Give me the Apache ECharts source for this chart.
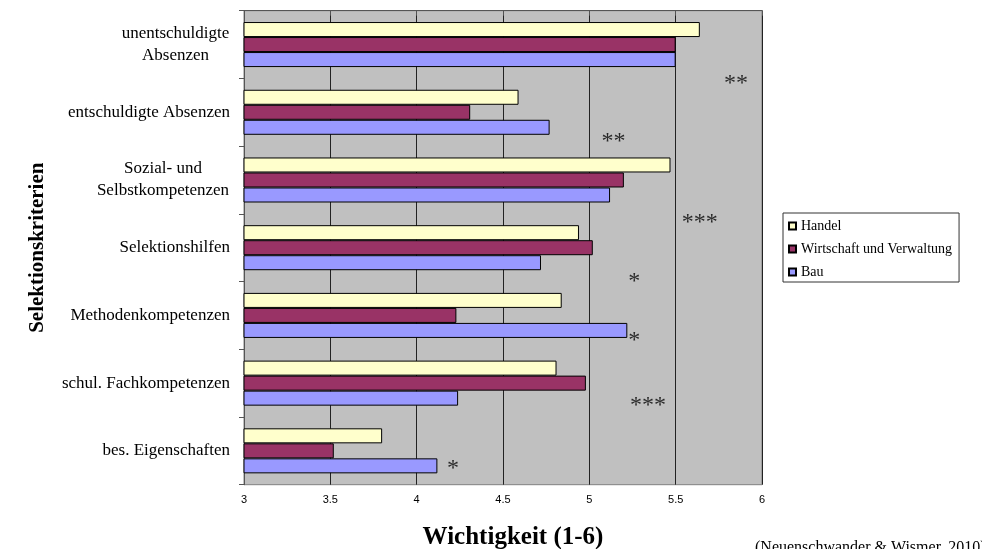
<!DOCTYPE html>
<html>
<head>
<meta charset="utf-8">
<script src="https://cdn.jsdelivr.net/npm/echarts@6/dist/echarts.min.js"></script>
<style>
html,body{margin:0;padding:0;background:#fff;overflow:hidden;}
#c{width:982px;height:549px;}
</style>
</head>
<body>
<div id="c"></div>
<script>
// ---- data ----
var categories = ['unentschuldigte\nAbsenzen', 'entschuldigte Absenzen', 'Sozial- und\nSelbstkompetenzen', 'Selektionshilfen', 'Methodenkompetenzen', 'schul. Fachkompetenzen', 'bes. Eigenschaften'];
var seriesNames = ['Handel', 'Wirtschaft und Verwaltung', 'Bau'];
var handel = [5.64, 4.59, 5.47, 4.94, 4.84, 4.81, 3.80];
var wirtschaft = [5.50, 4.31, 5.20, 5.02, 4.23, 4.98, 3.52];
var bau = [5.50, 4.77, 5.12, 4.72, 5.22, 4.24, 4.12];
var xTicks = [3, 3.5, 4, 4.5, 5, 5.5, 6];
// significance marks: [x value, position in category units from top, text]
var sigMarks = [
  [5.85, 0.99, '**'],
  [5.14, 1.85, '**'],
  [5.64, 3.04, '***'],
  [5.26, 3.92, '*'],
  [5.26, 4.78, '*'],
  [5.34, 5.74, '***'],
  [4.21, 6.68, '*']
];
var sourceText = '(Neuenschwander & Wismer, 2010)';

// ---- chart ----
var serif = '"Liberation Serif", "Times New Roman", serif';
var colors = ['#FFFFCC', '#993366', '#9999FF'];
var labelSize = 17;

// measure multi-line labels to center lines within their block
var cv = document.createElement('canvas').getContext('2d');
cv.font = labelSize + 'px ' + serif;
var rich = {};
var labelMap = {};
categories.forEach(function (c, i) {
  var lines = c.split('\n');
  if (lines.length > 1) {
    var w = 0;
    lines.forEach(function (l) { w = Math.max(w, cv.measureText(l).width); });
    var key = 'm' + i;
    rich[key] = { width: Math.ceil(w) + 1, align: 'center', fontSize: labelSize, fontFamily: serif, color: '#000', lineHeight: 22 };
    labelMap[c] = lines.map(function (l) { return '{' + key + '|' + l + '}'; }).join('\n');
  }
});

var chart = echarts.init(document.getElementById('c'), null, { renderer: 'canvas' });
var seriesData = [handel, wirtschaft, bau];
var series = seriesData.map(function (d, i) {
  return {
    name: seriesNames[i],
    type: 'bar',
    xAxisIndex: 0,
    yAxisIndex: 0,
    data: d,
    barGap: '0%',
    barCategoryGap: '33.5%',
    itemStyle: { color: colors[i], borderColor: '#000', borderWidth: 1 },
    emphasis: { disabled: true },
    animation: false
  };
});
series.push({
  type: 'scatter',
  xAxisIndex: 0,
  yAxisIndex: 1,
  data: sigMarks.map(function (m) { return [m[0], m[1], m[2]]; }),
  symbolSize: 1,
  itemStyle: { color: 'rgba(0,0,0,0)' },
  label: {
    show: true,
    position: 'inside',
    formatter: function (p) { return p.data[2]; },
    fontSize: 24,
    fontFamily: serif,
    color: '#000',
    offset: [0, 6]
  },
  silent: true,
  animation: false
});

chart.setOption({
  backgroundColor: '#fff',
  animation: false,
  grid: {
    left: 244, right: 220, top: 10.7, bottom: 64.3,
    outerBoundsMode: 'none', containLabel: false,
    show: true, backgroundColor: '#C0C0C0', borderColor: '#808080', borderWidth: 1
  },
  legend: {
    data: seriesNames,
    orient: 'vertical',
    left: 783, top: 213,
    itemWidth: 7, itemHeight: 7, itemGap: 9,
    icon: 'rect',
    padding: [6, 7, 3, 5],
    borderColor: '#333', borderWidth: 1,
    backgroundColor: '#fff',
    textStyle: { fontFamily: serif, fontSize: 14, color: '#000' }
  },
  xAxis: {
    type: 'value', min: xTicks[0], max: xTicks[xTicks.length - 1], interval: 0.5,
    name: 'Wichtigkeit (1-6)', nameLocation: 'middle', nameGap: 40,
    nameTextStyle: { fontFamily: serif, fontSize: 25, fontWeight: 'bold', color: '#000', padding: [0, 0, 0, 20] },
    axisLine: { show: true, lineStyle: { color: '#555', width: 1 } },
    axisTick: { show: true, length: 5, lineStyle: { color: '#555' } },
    axisLabel: { fontFamily: '"Liberation Sans", Arial, sans-serif', fontSize: 11, color: '#000', margin: 10 },
    splitLine: { show: true, lineStyle: { color: '#222', width: 1 } }
  },
  yAxis: [{
    type: 'category', data: categories, inverse: true,
    name: 'Selektionskriterien', nameLocation: 'middle', nameRotate: 90, nameGap: 196,
    nameTextStyle: { fontFamily: serif, fontSize: 21, fontWeight: 'bold', color: '#000' },
    axisLine: { show: true, lineStyle: { color: '#555', width: 1 } },
    axisTick: { show: true, length: 5, lineStyle: { color: '#555' } },
    axisLabel: {
      fontFamily: serif, fontSize: labelSize, color: '#000', margin: 14, lineHeight: 22,
      formatter: function (v) { return labelMap[v] || v; },
      rich: rich
    },
    splitLine: { show: false }
  }, {
    type: 'value', min: 0, max: 7, inverse: true, show: false
  }],
  graphic: [{
    type: 'text', left: 755, top: 540,
    style: { text: sourceText, font: '16px ' + serif, fill: '#000' }
  }],
  series: series
});
</script>
</body>
</html>
